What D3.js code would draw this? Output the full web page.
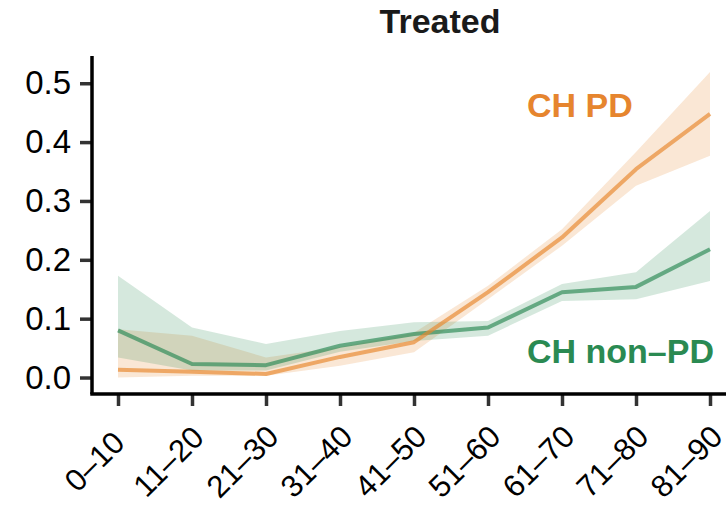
<!DOCTYPE html>
<html>
<head>
<meta charset="utf-8">
<script src="https://cdn.jsdelivr.net/npm/d3@7"></script>
<style>
  html, body { margin: 0; padding: 0; background: #fff; }
  svg text { font-family: "Liberation Sans", Arial, Helvetica, sans-serif; }
</style>
</head>
<body>
<svg id="chart" width="726" height="505"></svg>
<script>
// Age groups on the x axis
const ageGroups = ["0\u201310", "11\u201320", "21\u201330", "31\u201340", "41\u201350",
                   "51\u201360", "61\u201370", "71\u201380", "81\u201390"];

// CH PD: mean and confidence band
const pdMean  = [0.013, 0.010, 0.006, 0.035, 0.060, 0.145, 0.238, 0.354, 0.448];
const pdLow   = [0.000, 0.003, 0.003, 0.020, 0.043, 0.133, 0.224, 0.326, 0.377];
const pdHigh  = [0.082, 0.071, 0.034, 0.052, 0.076, 0.156, 0.252, 0.383, 0.519];

// CH non-PD: mean and confidence band
const nonMean = [0.080, 0.023, 0.021, 0.054, 0.074, 0.085, 0.145, 0.154, 0.218];
const nonLow  = [0.034, 0.012, 0.012, 0.044, 0.062, 0.071, 0.130, 0.133, 0.164];
const nonHigh = [0.173, 0.085, 0.057, 0.079, 0.094, 0.096, 0.159, 0.179, 0.283];

const yTicks = [0.0, 0.1, 0.2, 0.3, 0.4, 0.5];

const svg = d3.select("#chart");

const x = d3.scalePoint().domain(ageGroups).range([118, 710]);
const y = d3.scaleLinear().domain([-0.0263, 0.5463]).range([393, 56]);

const orange = "#E8892F";
const green = "#2E8B57";

// title
svg.append("text")
  .attr("x", 440).attr("y", 33)
  .attr("text-anchor", "middle")
  .attr("font-size", 34).attr("font-weight", "bold")
  .attr("fill", "#1a1a1a")
  .text("Treated");

function bandData(low, high) {
  return ageGroups.map((g, i) => ({ g, lo: low[i], hi: high[i] }));
}
function lineData(vals) {
  return ageGroups.map((g, i) => ({ g, v: vals[i] }));
}

const area = d3.area().x(d => x(d.g)).y0(d => y(d.lo)).y1(d => y(d.hi));
const line = d3.line().x(d => x(d.g)).y(d => y(d.v));

const series = [
  { mean: pdMean, low: pdLow, high: pdHigh, color: orange },
  { mean: nonMean, low: nonLow, high: nonHigh, color: green }
];

series.forEach(s => {
  svg.append("path")
    .datum(bandData(s.low, s.high))
    .attr("d", area)
    .attr("fill", s.color).attr("fill-opacity", 0.2);
});
series.slice().reverse().forEach(s => {
  svg.append("path")
    .datum(lineData(s.mean))
    .attr("d", line)
    .attr("fill", "none")
    .attr("stroke", s.color).attr("stroke-opacity", 0.68)
    .attr("stroke-width", 4)
    .attr("stroke-linejoin", "round");
});

// axes
const yAxis = d3.axisLeft(y).tickValues(yTicks).tickFormat(d3.format(".1f"))
  .tickSize(12).tickPadding(9);
const gy = svg.append("g").attr("transform", "translate(92,0)").call(yAxis);
gy.select(".domain").remove();
gy.selectAll(".tick line").attr("stroke", "#333").attr("stroke-width", 3.5);
gy.selectAll(".tick text").attr("font-size", 33).attr("fill", "#000")
  .attr("font-family", "Liberation Sans, Arial, sans-serif");

const xAxis = d3.axisBottom(x).tickSize(12).tickPadding(10);
const gx = svg.append("g").attr("transform", "translate(0,394)").call(xAxis);
gx.select(".domain").remove();
gx.selectAll(".tick line").attr("stroke", "#333").attr("stroke-width", 3.5);
gx.selectAll(".tick text")
  .attr("font-size", 31).attr("fill", "#000")
  .attr("font-family", "Liberation Sans, Arial, sans-serif")
  .attr("text-anchor", "middle")
  .attr("x", 0).attr("y", 0).attr("dy", 0)
  .attr("transform", "translate(-16.5,75) rotate(-45)");

// spines
svg.append("line").attr("x1", 92).attr("x2", 92).attr("y1", 56).attr("y2", 394)
  .attr("stroke", "#000").attr("stroke-width", 3.5);
svg.append("line").attr("x1", 90.25).attr("x2", 740).attr("y1", 394).attr("y2", 394)
  .attr("stroke", "#000").attr("stroke-width", 3.5);

// series labels
svg.append("text").attr("x", 527).attr("y", 117)
  .attr("font-size", 34).attr("font-weight", "bold").attr("fill", "#E6852E")
  .text("CH PD");
svg.append("text").attr("x", 527).attr("y", 363)
  .attr("font-size", 34).attr("font-weight", "bold").attr("fill", "#2A8A52")
  .text("CH non\u2013PD");
</script>
</body>
</html>
